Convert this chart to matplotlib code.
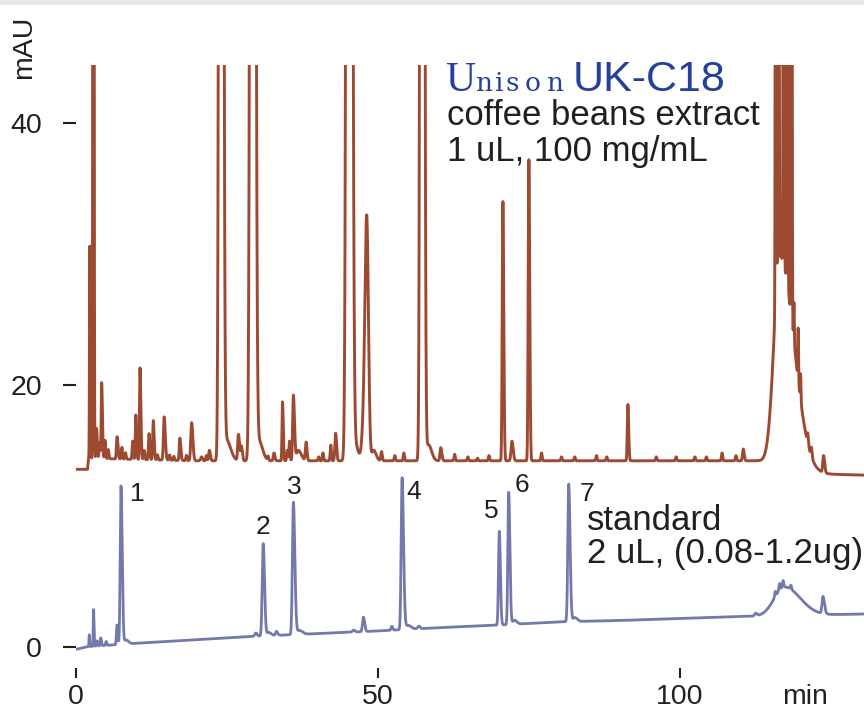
import numpy as np
import matplotlib
matplotlib.use("Agg")
import matplotlib.pyplot as plt
from matplotlib.patches import Rectangle

# ---------------- data ----------------
# coffee beans extract trace (red): baseline knots (min, mAU)
red_base_t = [0, 1.9, 2.1, 10, 20, 60, 110, 113, 122.6, 131]
red_base_v = [13.55, 13.55, 14.4, 14.3, 14.2, 14.2, 14.2, 14.2, 13.2, 13.1]
# peak table: retention time (min), height above baseline (mAU), left/right width (min)
red_rt = [2.3, 2.87, 3.4, 3.9, 4.25, 4.8, 5.35, 6.8, 7.6, 8.2, 9.4, 9.9, 10.6, 11.3,
          12.1, 12.8, 13.5, 14.6, 15.5, 16.2, 17.2, 18.3, 19.15, 20.8, 21.6, 22.1,
          24.0, 24.9, 26.9, 27.4, 29.25, 30.3, 31.8, 32.8, 34.2, 35.0, 35.35, 36.0,
          36.8, 38.1, 40.2, 40.9, 42.2, 43.0, 45.2, 46.4, 47.6, 48.15, 49.3, 50.6,
          52.8, 54.3, 57.3, 58.4, 60.4, 62.7, 64.9, 66.5, 68.4, 70.7, 72.2, 75.0,
          77.1, 80.4, 82.6, 86.2, 87.9, 91.4, 96.1, 99.4, 102.5, 104.4, 107.0, 109.3,
          110.5, 116.6, 115.9, 116.35, 117.2, 117.8, 118.5, 118.9, 119.6, 120.0,
          121.2, 121.8, 123.8]
red_h = [16.2, 200, 2.3, 1.2, 5.8, 1.4, 0.7, 1.7, 0.9, 0.5, 1.4, 3.4, 7.0, 0.7,
         2.0, 3.0, 0.4, 3.3, 0.4, 0.3, 1.7, 0.4, 2.9, 0.3, 0.4, 0.8,
         300, 1.6, 2.0, 1.1, 300, 1.5, 0.3, 0.6, 4.5, 0.8, 1.5, 5.0,
         0.8, 1.4, 0.3, 0.6, 1.2, 2.1, 300, 1.0, 2.0, 18.4, 0.8, 0.7,
         0.4, 0.6, 300, 1.2, 1.0, 0.5, 0.3, 0.2, 0.4, 19.8, 1.5, 23.0,
         0.6, 0.3, 0.3, 0.4, 0.3, 4.3, 0.3, 0.3, 0.3, 0.3, 0.6, 0.4,
         0.9, 16.0, 100, 100, 100, 100, 100, 3.0, 4.0, 2.0,
         0.8, 0.7, 1.3]
red_sl = [0.06, 0.06, 0.08, 0.08, 0.08, 0.08, 0.08, 0.1, 0.1, 0.1, 0.1, 0.08, 0.08, 0.1,
          0.1, 0.1, 0.1, 0.12, 0.1, 0.1, 0.1, 0.1, 0.14, 0.15, 0.1, 0.12,
          0.21, 0.4, 0.12, 0.12, 0.26, 0.4, 0.1, 0.12, 0.08, 0.1, 0.08, 0.12,
          0.3, 0.12, 0.1, 0.1, 0.1, 0.12, 0.27, 0.3, 0.3, 0.3, 0.3, 0.12,
          0.1, 0.1, 0.2, 0.3, 0.12, 0.1, 0.1, 0.1, 0.1, 0.11, 0.15, 0.11,
          0.1, 0.1, 0.1, 0.1, 0.1, 0.1, 0.1, 0.1, 0.1, 0.1, 0.1, 0.1,
          0.12, 1.0, 0.07, 0.07, 0.07, 0.07, 0.07, 0.06, 0.06, 0.06,
          0.1, 0.1, 0.12]
red_sr = [0.08, 0.08, 0.12, 0.1, 0.12, 0.1, 0.1, 0.15, 0.1, 0.1, 0.1, 0.12, 0.14, 0.1,
          0.12, 0.14, 0.1, 0.18, 0.1, 0.1, 0.15, 0.1, 0.2, 0.15, 0.1, 0.15,
          0.26, 0.7, 0.18, 0.15, 0.3, 0.6, 0.1, 0.15, 0.12, 0.1, 0.1, 0.18,
          0.5, 0.15, 0.1, 0.1, 0.1, 0.15, 0.34, 0.4, 0.3, 0.28, 0.4, 0.12,
          0.1, 0.1, 0.25, 0.5, 0.18, 0.1, 0.1, 0.1, 0.1, 0.14, 0.2, 0.14,
          0.1, 0.1, 0.1, 0.1, 0.1, 0.13, 0.1, 0.1, 0.1, 0.1, 0.1, 0.1,
          0.15, 2.3, 0.07, 0.07, 0.07, 0.07, 0.07, 0.06, 0.06, 0.06,
          0.1, 0.1, 0.18]

# standard trace (blue)
blue_base_t = [0, 2, 10, 30, 40, 50, 60, 70, 80, 90, 100, 110, 131]
blue_base_v = [-0.2, 0.0, 0.26, 0.8, 1.0, 1.2, 1.45, 1.65, 1.9, 2.0, 2.15, 2.3, 2.5]
blue_rt = [2.2, 2.9, 3.5, 4.1, 5.0, 6.8, 7.45, 8.3, 29.8, 31.0, 31.9, 33.2, 36.0, 37.0,
           46.0, 47.6, 52.3, 54.0, 55.0, 56.8, 70.1, 71.65, 72.6, 81.6, 82.6, 112.6,
           117.3, 115.8, 116.5, 117.1, 118.4, 123.7]
blue_h = [0.9, 2.8, 0.4, 0.6, 0.3, 1.5, 12.1, 0.3, 0.25, 7.05, 0.25, 0.3, 10.1, 0.3,
          0.15, 1.1, 0.3, 11.6, 0.3, 0.2, 7.15, 10.1, 0.3, 10.5, 0.3, 0.2,
          2.2, 0.4, 0.5, 0.5, 0.3, 1.3]
blue_sl = [0.05, 0.05, 0.08, 0.08, 0.1, 0.1, 0.13, 0.3, 0.2, 0.16, 0.3, 0.15, 0.16, 0.4,
           0.2, 0.15, 0.12, 0.15, 0.4, 0.2, 0.13, 0.13, 0.3, 0.15, 0.3, 0.2,
           1.66, 0.1, 0.1, 0.1, 0.1, 0.15]
blue_sr = [0.07, 0.08, 0.1, 0.12, 0.1, 0.12, 0.2, 0.4, 0.2, 0.22, 0.4, 0.2, 0.24, 0.5,
           0.2, 0.2, 0.15, 0.24, 0.5, 0.2, 0.18, 0.2, 0.4, 0.22, 0.4, 0.2,
           2.6, 0.1, 0.1, 0.1, 0.1, 0.25]

peak_labels = ["1", "2", "3", "4", "5", "6", "7"]
label_x = [10.2, 30.9, 36.1, 56.0, 68.8, 73.8, 84.7]
label_y = [11.1, 8.6, 11.7, 11.3, 9.8, 11.8, 11.15]

x_ticks = [0, 50, 100]
y_ticks = [0, 20, 40]

# ---------------- build signals ----------------
t = np.arange(0, 130.5, 0.01)


def trace(base_t, base_v, rt, h, sl, sr):
    y = np.interp(t, base_t, base_v)
    for r, hh, a, b in zip(rt, h, sl, sr):
        s = np.where(t < r, a, b)
        y = y + hh * np.exp(-0.5 * ((t - r) / s) ** 2)
    return y


red = trace(red_base_t, red_base_v, red_rt, red_h, red_sl, red_sr)
blue = trace(blue_base_t, blue_base_v, blue_rt, blue_h, blue_sl, blue_sr)

# ---------------- figure ----------------
W, H = 864, 709
fig = plt.figure(figsize=(W / 100, H / 100), dpi=100)
fig.patch.set_facecolor("white")
fig.patches.append(Rectangle((0, 1 - 5 / H), 1, 5 / H, transform=fig.transFigure,
                             facecolor="#e6e7e8", edgecolor="none"))

ax = fig.add_axes([76 / W, 1 - 668 / H, (W - 76) / W, (668 - 65) / H])
ax.set_xlim(0, 130.5)
ax.set_ylim(-1.63, 44.44)
for sp in ax.spines.values():
    sp.set_visible(False)

red_c = "#9d4a33"
blue_c = "#7479ab"
ax.plot(t, blue, color=blue_c, lw=2.0, solid_joinstyle="round")
ax.plot(t, red, color=red_c, lw=2.1, solid_joinstyle="round")

font = "Liberation Sans"
txt_c = "#231f20"
ax.set_xticks(x_ticks)
ax.set_yticks(y_ticks)
ax.set_xticklabels([str(v) for v in x_ticks], fontsize=20.5, family=font, color=txt_c)
ax.set_yticklabels([str(v) for v in y_ticks], fontsize=20.5, family=font, color=txt_c)
ax.tick_params(axis="y", direction="out", length=9.4, width=1.5, pad=15, colors=txt_c)
ax.tick_params(axis="x", direction="out", length=7.2, width=1.5, pad=4, colors=txt_c)

for lab, lx, ly in zip(peak_labels, label_x, label_y):
    ax.text(lx, ly, lab, fontsize=19, family=font, color=txt_c, ha="center", va="baseline")


def fx(px):
    return px / W


def fy(py):
    return 1 - py / H


fig.text(fx(24), fy(47), "mAU", rotation=90, fontsize=20.5, family=font, color=txt_c,
         ha="center", va="center")
fig.text(fx(805), fy(704), "min", fontsize=20.5, family=font, color=txt_c,
         ha="center", va="baseline")

blue_txt = "#25409a"
fig.text(fx(445), fy(91), "U", fontsize=30, family="Liberation Serif", color=blue_txt,
         ha="left", va="baseline")
for ch, cx in zip("nison", [484, 499, 512, 533, 555]):
    fig.text(fx(cx), fy(91), ch, fontsize=19, family="DejaVu Serif", color=blue_txt,
             ha="center", va="baseline")
fig.text(fx(573), fy(91), "UK-C18", fontsize=31, family=font, color=blue_txt,
         ha="left", va="baseline")

fig.text(fx(447), fy(125), "coffee beans extract", fontsize=25, family=font,
         color=txt_c, ha="left", va="baseline")
fig.text(fx(447), fy(161), "1 uL, 100 mg/mL", fontsize=25, family=font,
         color=txt_c, ha="left", va="baseline")
fig.text(fx(587), fy(530), "standard", fontsize=25, family=font,
         color=txt_c, ha="left", va="baseline")
fig.text(fx(587), fy(563), "2 uL, (0.08-1.2ug)", fontsize=25, family=font,
         color=txt_c, ha="left", va="baseline")

fig.savefig("out.png", dpi=100)
